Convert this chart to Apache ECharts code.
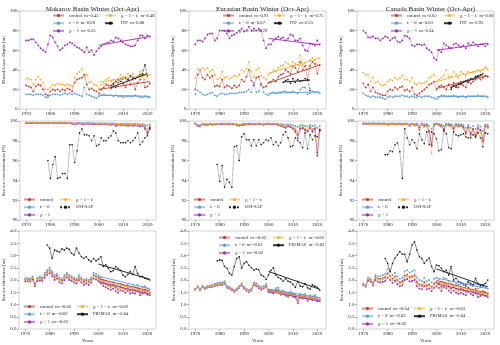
<!DOCTYPE html>
<html>
<head>
<meta charset="utf-8">
<script src="https://cdn.jsdelivr.net/npm/echarts@6/dist/echarts.min.js"></script>
<style>
  html, body { margin: 0; padding: 0; background: #fff; }
  #main { width: 500px; height: 345px; }
</style>
</head>
<body>
<div id="main"></div>
<script>
// years of the model runs
const years = [1970,1971,1972,1973,1974,1975,1976,1977,1978,1979,1980,1981,1982,1983,1984,1985,1986,1987,1988,1989,
  1990,1991,1992,1993,1994,1995,1996,1997,1998,1999,2000,2001,2002,2003,2004,2005,2006,2007,2008,2009,
  2010,2011,2012,2013,2014,2015,2016,2017,2018,2019,2020,2021];
const satYears = [1979,1980,1981,1982,1983,1984,1985,1986,1987,1988,1989,1990,1991,1992,1993,1994,1995,1996,1997,1998,
  1999,2000,2001,2002,2003,2004,2005,2006,2007,2008,2009,2010,2011,2012,2013,2014,2015,2016,2017,2018,2019,2020,2021];
const yearTicks = [1970, 1980, 1990, 2000, 2010, 2020];

// ---- mixed layer depth [m] ----
const mldMakControl = [24,23,22,18,23,25,24,20,15,14,18,20,19,20,18,20,19,21,20,18,27,30,31,32,35,25,20,21,19,18,16,20,22,25,24,21,25,22,27,31,26,22,30,25,32,20,27,30,35,22,23,26];
const mldMakF0 = [15,15,15,14,15,15,15,14,12,12,14,15,15,15,14,15,16,15,16,15,16,15,14,13,22,15,14,13,12,11,13,14,15,14,14,14,13,14,13,13,12,13,13,13,13,14,13,12,12,13,12,12];
const mldMakChi1 = [70,70,71,71,68,65,62,60,58,66,75,73,68,64,60,62,65,66,68,67,65,63,62,60,58,63,58,60,55,59,62,64,66,67,68,70,69,73,72,70,68,66,65,64,64,65,70,75,75,72,75,74];
const mldMakChiF = [31,31,30,25,30,33,30,27,20,20,22,25,24,26,25,25,24,25,24,23,32,36,38,41,33,35,27,28,25,24,20,25,26,30,32,28,30,28,31,35,33,30,36,34,36,31,33,38,40,30,33,35];
const itpMakYears = [2005,2006,2007,2008,2009,2010,2011,2012,2013,2014,2015,2016,2017,2018,2019,2020];
const itpMak = [24,26,28,30,28,31,32,30,34,32,31,33,35,36,45,34];

const mldEurControl = [20,35,40,32,30,35,32,34,23,24,23,30,22,24,23,21,24,22,24,30,28,33,40,29,24,32,33,25,22,23,27,28,30,28,33,35,36,40,38,36,44,42,38,48,40,44,30,44,48,46,36,45];
const mldEurF0 = [15,19,17,15,14,15,16,17,14,13,15,16,15,15,16,16,16,16,17,17,17,18,20,17,27,17,18,26,17,15,14,16,17,16,17,17,18,18,17,17,18,17,16,20,22,22,15,16,18,17,17,16];
const mldEurChi1 = [66,70,70,69,72,76,77,77,70,72,80,80,80,77,72,75,76,78,80,82,79,80,84,80,82,80,82,80,70,62,66,66,70,72,74,72,73,70,72,76,75,70,70,72,65,60,59,67,66,65,70,66];
const mldEurChiF = [32,41,40,42,40,42,38,40,35,30,31,38,32,33,31,32,34,33,35,40,38,41,48,38,33,40,42,34,32,30,35,37,40,38,42,44,45,48,46,44,48,46,45,55,45,47,40,50,52,50,45,52];
const itpEurYears = [2006,2007,2008,2009,2010,2011,2012,2013,2014,2015,2016,2017];
const itpEur = [27,29,30,26,31,27,30,28,29,31,30,19];

const mldCanControl = [26,22,25,18,22,17,16,15,14,14,18,20,19,22,20,22,23,19,20,18,22,15,14,16,18,20,22,25,26,28,20,23,24,22,20,25,22,27,24,22,28,24,22,30,26,28,30,33,30,32,34,33];
const mldCanF0 = [16,14,13,12,13,12,12,12,11,10,12,13,12,13,13,13,14,13,13,12,13,12,12,13,12,13,13,13,12,11,10,12,14,14,13,13,13,14,13,12,13,13,12,13,13,13,13,14,13,13,13,12];
const mldCanChi1 = [80,78,73,73,74,72,72,70,72,74,73,70,72,73,69,68,70,75,74,72,65,64,66,66,65,66,62,60,58,52,50,60,58,67,65,63,62,66,67,65,63,65,62,67,65,68,66,64,66,66,64,66];
const mldCanChiF = [37,35,35,28,32,27,28,25,24,25,28,30,29,32,30,32,34,30,30,28,32,26,25,27,26,27,28,32,33,35,28,30,32,34,40,33,33,38,35,32,38,36,34,38,37,38,38,40,38,40,43,40];
const itpCanYears = [2006,2007,2008,2009,2010,2011,2012,2013,2014,2015,2016,2017,2018,2019];
const itpCan = [20,24,22,26,25,28,29,27,31,30,33,34,35,36];

// trend line ends [start, end] for control, f0, chi1, chiF, obs
const trendMldMak = [[20,28],[14,13],[65,74],[27.5,35],[22,36]];
const trendMldEur = [[26.5,45],[16,17.5],[72,65.5],[36.5,52],[27.5,29.5]];
const trendMldCan = [[21,34],[12.5,13],[60,67],[28,41.7],[22,35]];
const mMldMak = ['0.45','0.06','0.35','0.48','0.88'];
const mMldEur = ['0.91','0.07','-0.29','0.75','0.15'];
const mMldCan = ['0.65','0.03','0.34','0.68','0.93'];

// ---- sea ice concentration [%] ----
const conMakControl = [99.82,99.80,99.80,99.81,99.80,99.80,99.79,99.80,99.80,99.80,99.79,99.80,99.80,99.78,99.80,99.79,99.80,99.80,99.79,99.75,
  99.70,99.75,99.78,99.70,99.72,99.75,99.74,99.73,99.72,99.70,99.70,99.72,99.70,99.70,99.68,99.68,99.70,99.60,99.65,99.62,
  99.65,99.62,99.60,99.62,99.60,99.62,99.60,99.55,99.60,99.40,98.90,99.40];
const conMakF0 = [99.85,99.84,99.84,99.85,99.84,99.84,99.83,99.84,99.84,99.84,99.83,99.84,99.84,99.83,99.84,99.83,99.84,99.84,99.83,99.80,
  99.78,99.80,99.82,99.78,99.80,99.80,99.80,99.79,99.78,99.77,99.77,99.78,99.77,99.77,99.76,99.75,99.76,99.72,99.74,99.72,
  99.74,99.72,99.70,99.72,99.70,99.72,99.70,99.68,99.70,99.60,99.55,99.65];
const conMakChi1 = [99.80,99.78,99.78,99.79,99.78,99.78,99.77,99.78,99.78,99.78,99.77,99.78,99.78,99.76,99.78,99.77,99.78,99.78,99.77,99.72,
  99.66,99.72,99.75,99.66,99.68,99.72,99.70,99.70,99.68,99.66,99.66,99.68,99.66,99.66,99.63,99.62,99.66,99.50,99.60,99.55,
  99.60,99.55,99.52,99.56,99.52,99.55,99.52,99.45,99.52,99.20,98.70,99.20];
const conMakChiF = [99.83,99.82,99.82,99.82,99.81,99.81,99.80,99.81,99.81,99.81,99.80,99.81,99.81,99.79,99.81,99.80,99.81,99.81,99.80,99.77,
  99.72,99.77,99.79,99.72,99.74,99.77,99.76,99.75,99.74,99.72,99.72,99.74,99.72,99.72,99.70,99.70,99.72,99.63,99.67,99.64,
  99.67,99.64,99.62,99.64,99.62,99.64,99.62,99.58,99.62,99.45,99.20,99.50];
const osiMak = [96.0,94.2,95.6,96.4,94.2,94.3,94.7,94.7,94.2,97.6,97.6,95.8,97.0,98.8,99.2,98.6,98.6,98.5,98.0,98.5,
  97.5,97.6,98.3,98.0,98.0,98.3,98.5,99.0,98.8,98.0,97.8,97.8,97.8,98.0,97.8,98.0,98.3,98.8,97.6,97.9,98.3,98.5,99.3];

const conEurControl = [99.75,99.55,99.50,99.68,99.65,99.62,99.70,99.66,99.68,99.70,99.70,99.72,99.70,99.68,99.72,99.70,99.68,99.62,99.58,99.62,
  99.65,99.70,99.72,99.70,99.68,99.70,99.72,99.70,99.66,99.70,99.72,99.70,99.68,99.70,99.62,99.58,99.50,99.40,99.55,99.45,
  99.30,99.10,98.60,99.30,99.35,99.20,99.00,99.40,99.10,99.30,96.80,99.10];
const conEurF0 = [99.78,99.62,99.58,99.72,99.70,99.68,99.74,99.70,99.72,99.74,99.74,99.76,99.74,99.72,99.76,99.74,99.72,99.68,99.65,99.68,
  99.70,99.74,99.76,99.74,99.72,99.74,99.76,99.74,99.70,99.74,99.76,99.74,99.72,99.74,99.70,99.68,99.65,99.60,99.66,99.62,
  99.55,99.50,99.40,99.55,99.58,99.50,99.45,99.60,99.50,99.55,99.30,99.50];
const conEurChi1 = [99.72,99.50,99.45,99.65,99.62,99.58,99.68,99.62,99.65,99.68,99.68,99.70,99.68,99.65,99.70,99.68,99.65,99.58,99.52,99.58,
  99.62,99.68,99.70,99.68,99.65,99.68,99.70,99.68,99.62,99.68,99.70,99.68,99.65,99.68,99.58,99.52,99.42,99.30,99.48,99.38,
  99.20,98.90,98.25,99.20,99.25,99.05,98.95,99.30,98.90,99.20,96.50,99.00];
const conEurChiF = [99.76,99.58,99.52,99.70,99.66,99.64,99.72,99.68,99.70,99.72,99.72,99.74,99.72,99.70,99.74,99.72,99.70,99.64,99.60,99.64,
  99.66,99.72,99.74,99.72,99.70,99.72,99.74,99.72,99.68,99.72,99.74,99.72,99.70,99.72,99.65,99.60,99.52,99.45,99.58,99.50,
  99.35,99.20,98.80,99.35,99.40,99.25,99.10,99.45,99.20,99.35,97.20,99.20];
const osiEur = [95.6,93.9,95.5,93.3,94.1,93.8,93.3,97.4,97.5,96.0,98.4,98.7,98.1,98.1,97.5,98.1,97.5,98.1,97.6,97.8,
  98.1,98.0,98.3,97.6,97.9,97.5,97.8,98.6,98.9,98.3,97.4,97.5,98.3,98.0,97.8,97.3,98.8,97.2,98.6,98.1,98.5,98.4,99.1];

const conCanControl = [99.75,99.72,99.74,99.70,99.75,99.72,99.74,99.70,99.72,99.70,99.65,99.70,99.72,99.68,99.70,99.72,99.66,99.70,99.68,99.55,
  99.70,99.60,99.65,99.30,99.70,99.50,99.60,99.00,97.50,99.60,99.70,99.60,99.50,99.20,99.65,99.60,99.55,99.30,99.60,99.50,
  99.55,99.40,98.90,99.40,98.80,99.20,98.60,99.30,99.10,98.20,99.50,99.40];
const conCanF0 = [99.78,99.76,99.77,99.75,99.78,99.76,99.77,99.75,99.76,99.75,99.72,99.75,99.76,99.74,99.75,99.76,99.72,99.75,99.74,99.68,
  99.75,99.70,99.72,99.55,99.75,99.65,99.70,99.50,99.20,99.70,99.75,99.70,99.65,99.50,99.72,99.70,99.68,99.55,99.70,99.65,
  99.68,99.60,99.30,99.60,99.30,99.50,99.20,99.55,99.45,99.00,99.65,99.60];
const conCanChi1 = [99.73,99.70,99.72,99.68,99.73,99.70,99.72,99.68,99.70,99.68,99.62,99.68,99.70,99.66,99.68,99.70,99.64,99.68,99.66,99.50,
  99.68,99.55,99.62,99.10,99.68,99.45,99.55,98.90,97.60,99.58,99.68,99.55,99.45,99.10,99.62,99.55,99.50,99.20,99.55,99.45,
  99.50,99.30,98.70,99.30,98.60,99.10,98.50,99.20,99.00,98.00,99.45,99.35];
const conCanChiF = [99.72,99.70,99.72,99.68,99.72,99.70,99.72,99.68,99.70,99.68,99.62,99.68,99.70,99.65,99.68,99.70,99.62,99.68,99.65,99.50,
  99.68,99.55,99.60,99.20,99.65,99.40,99.50,98.80,96.70,99.55,99.65,99.55,99.40,99.00,99.60,99.50,99.45,99.10,99.55,99.40,
  99.45,99.25,98.60,99.25,98.50,99.00,98.30,99.15,98.90,97.90,99.40,99.30];
const osiCan = [96.6,96.6,97.0,96.9,97.6,97.8,96.9,94.2,99.2,98.3,97.6,98.1,97.8,97.2,98.7,98.1,97.7,98.9,97.6,98.9,
  98.7,98.2,97.0,97.1,99.0,98.7,97.3,97.2,98.9,98.6,98.5,98.6,98.7,98.4,98.3,98.3,98.6,98.4,98.8,98.3,97.4,98.8,98.7];

// ---- sea ice thickness [m] ----
const thkMakControl = [2.02,2.03,2.00,2.10,1.80,2.05,2.08,2.05,2.22,2.32,2.40,2.28,2.12,2.18,2.02,1.98,2.12,2.22,2.12,2.08,
  2.02,1.98,2.12,2.02,1.92,1.98,1.92,2.02,2.20,2.15,2.10,2.00,1.90,1.85,1.80,1.75,1.80,1.70,1.62,1.72,
  1.68,1.62,1.68,1.58,1.62,1.58,1.68,1.48,1.58,1.62,1.52,1.48];
const thkMakF0 = [2.08,2.08,2.05,2.15,1.85,2.10,2.15,2.10,2.30,2.40,2.50,2.35,2.20,2.25,2.10,2.05,2.20,2.30,2.20,2.15,
  2.10,2.05,2.20,2.10,2.00,2.05,2.00,2.10,2.30,2.25,2.20,2.10,2.00,1.95,1.90,1.85,1.90,1.80,1.75,1.85,
  1.80,1.75,1.80,1.70,1.75,1.70,1.80,1.60,1.70,1.75,1.65,1.60];
const thkMakChi1 = [1.95,1.96,1.93,2.02,1.75,1.96,1.98,1.96,2.10,2.20,2.28,2.16,2.00,2.06,1.90,1.86,2.00,2.10,2.00,1.96,
  1.90,1.86,2.00,1.90,1.80,1.86,1.80,1.90,2.06,2.02,1.96,1.86,1.76,1.70,1.65,1.60,1.65,1.55,1.48,1.58,
  1.55,1.48,1.55,1.45,1.48,1.45,1.55,1.38,1.45,1.50,1.40,1.38];
const thkMakChiF = [2.00,2.01,1.98,2.08,1.78,2.02,2.05,2.02,2.18,2.28,2.35,2.24,2.08,2.14,1.98,1.94,2.08,2.18,2.08,2.04,
  1.98,1.94,2.08,1.98,1.88,1.94,1.88,1.98,2.15,2.10,2.05,1.95,1.85,1.80,1.75,1.70,1.75,1.65,1.58,1.68,
  1.64,1.58,1.64,1.54,1.58,1.54,1.64,1.45,1.54,1.58,1.48,1.45];
const piomasMak = [3.43,3.30,2.88,3.22,3.18,3.13,3.27,3.22,3.30,3.25,3.09,3.02,3.30,3.10,2.95,2.88,2.95,2.82,2.75,2.88,
  2.78,2.85,2.95,2.55,2.62,2.48,2.34,2.38,2.55,2.48,2.40,2.20,2.13,2.22,2.34,2.22,2.55,2.27,2.13,2.15,2.07,2.04,2.00];

const thkEurControl = [1.62,1.72,1.60,1.72,1.65,1.72,1.73,1.75,1.80,1.82,1.85,1.85,1.90,1.72,1.68,1.62,1.55,1.62,1.72,1.82,
  1.68,1.60,1.55,1.60,1.85,1.80,1.72,1.65,1.70,1.78,1.55,1.55,1.50,1.60,1.62,1.45,1.50,1.42,1.38,1.45,
  1.38,1.35,1.10,1.35,1.30,1.35,1.20,1.30,1.25,1.30,1.20,1.20];
const thkEurF0 = [1.65,1.75,1.63,1.76,1.69,1.76,1.77,1.80,1.85,1.87,1.90,1.90,1.95,1.76,1.72,1.66,1.59,1.66,1.76,1.87,
  1.73,1.65,1.60,1.65,1.90,1.86,1.78,1.71,1.76,1.84,1.61,1.61,1.57,1.67,1.70,1.52,1.58,1.50,1.46,1.53,
  1.46,1.43,1.20,1.44,1.39,1.43,1.29,1.38,1.33,1.38,1.28,1.28];
const thkEurChi1 = [1.60,1.70,1.58,1.70,1.63,1.69,1.70,1.72,1.76,1.78,1.80,1.80,1.85,1.68,1.64,1.58,1.52,1.58,1.68,1.78,
  1.64,1.56,1.51,1.56,1.80,1.75,1.67,1.60,1.65,1.73,1.50,1.50,1.45,1.55,1.56,1.40,1.44,1.36,1.32,1.39,
  1.32,1.29,1.05,1.28,1.24,1.28,1.14,1.23,1.18,1.23,1.14,1.14];
const thkEurChiF = [1.61,1.71,1.59,1.71,1.64,1.71,1.72,1.74,1.79,1.81,1.84,1.84,1.89,1.71,1.67,1.61,1.54,1.61,1.71,1.81,
  1.67,1.59,1.54,1.59,1.84,1.79,1.71,1.64,1.69,1.77,1.54,1.54,1.49,1.59,1.61,1.44,1.49,1.41,1.37,1.44,
  1.37,1.34,1.09,1.34,1.29,1.34,1.19,1.29,1.24,1.29,1.19,1.19];
const piomasEur = [2.78,2.82,2.80,2.55,2.48,2.27,2.20,2.55,2.88,2.95,2.48,2.68,2.75,2.60,2.50,2.40,2.45,2.42,2.20,2.15,
  2.02,2.20,2.40,2.50,2.20,2.10,2.05,1.95,2.05,1.95,1.92,1.82,1.70,1.95,1.75,1.72,1.85,1.68,1.62,1.80,1.75,1.70,1.58];

const thkCanControl = [1.83,1.76,2.05,2.00,1.86,2.12,2.06,2.05,2.08,2.12,2.28,2.18,2.05,2.15,2.00,1.90,1.95,2.18,2.22,2.12,
  2.15,2.20,1.92,1.82,1.78,1.92,1.78,1.82,1.72,1.86,1.92,1.86,1.72,1.90,1.85,1.75,1.65,1.75,1.65,1.60,
  1.65,1.60,1.55,1.70,1.60,1.55,1.65,1.45,1.50,1.55,1.50,1.45];
const thkCanF0 = [1.85,1.78,2.10,2.05,1.90,2.20,2.15,2.15,2.20,2.25,2.45,2.35,2.20,2.30,2.15,2.05,2.10,2.35,2.40,2.30,
  2.35,2.40,2.10,2.00,1.95,2.10,1.95,2.00,1.90,2.05,2.10,2.05,1.90,2.10,2.05,1.95,1.85,1.95,1.85,1.80,
  1.85,1.80,1.75,1.90,1.80,1.75,1.85,1.65,1.70,1.75,1.70,1.65];
const thkCanChi1 = [1.80,1.72,1.98,1.93,1.78,2.00,1.93,1.90,1.92,1.96,2.10,2.00,1.88,1.97,1.83,1.74,1.78,2.00,2.04,1.94,
  1.96,2.00,1.75,1.65,1.62,1.75,1.62,1.65,1.55,1.68,1.74,1.68,1.55,1.72,1.67,1.57,1.48,1.57,1.48,1.43,
  1.48,1.43,1.38,1.52,1.43,1.38,1.48,1.30,1.35,1.40,1.35,1.30];
const thkCanChiF = [1.82,1.75,2.03,1.98,1.84,2.08,2.02,2.00,2.03,2.07,2.22,2.12,1.99,2.09,1.94,1.84,1.89,2.12,2.16,2.06,
  2.09,2.14,1.86,1.76,1.72,1.86,1.72,1.76,1.66,1.80,1.86,1.80,1.66,1.84,1.79,1.69,1.59,1.69,1.59,1.54,
  1.59,1.54,1.49,1.64,1.54,1.49,1.59,1.40,1.45,1.50,1.45,1.40];
const piomasCan = [2.88,2.68,2.34,2.68,2.90,3.02,3.16,3.05,3.05,2.75,3.05,3.43,3.56,3.22,2.95,2.88,2.68,2.80,2.90,2.55,
  2.34,2.61,2.58,2.48,2.34,2.40,2.20,2.55,2.00,2.07,1.93,1.90,1.86,1.80,1.93,1.86,1.80,2.07,1.83,1.77,1.80,1.86,2.00];

const trendThkMak = [[2.05,1.55],[2.15,1.65],[1.92,1.42],[2.00,1.50],[2.65,2.03]];
const trendThkEur = [[1.58,1.20],[1.63,1.28],[1.53,1.14],[1.56,1.19],[2.35,1.62]];
const trendThkCan = [[1.98,1.45],[2.08,1.65],[1.85,1.35],[1.93,1.42],[2.45,1.72]];
const mThkMak = ['-0.02','-0.02','-0.02','-0.02','-0.04'];
const mThkEur = ['-0.02','-0.01','-0.02','-0.02','-0.03'];
const mThkCan = ['-0.04','-0.03','-0.02','-0.03','-0.04'];

// ---------------------------------------------------------------
const FONT = "'Liberation Serif','DejaVu Serif',serif";
const TXT = '#222';
const colLeft = [19, 189, 357];
const rowTop = [11, 121, 231];
const gridW = 137;
const gridH = [98, 99, 98];

const modelKeys = ['control', 'f0', 'chi1', 'chiF'];
const modelColors = { control: '#c0392b', f0: '#5b9bd5', chi1: '#9c27b0', chiF: '#f2b134' };
const modelText = { control: 'control', f0: 'fᵢ = 0', chi1: 'χᵢ = 1', chiF: 'χᵢ = 1 − fᵢ' };

const rows = [
  { min: 0, max: 100, interval: 20, name: 'Mixed Layer Depth [m]', fmt: v => String(v) },
  { min: 90, max: 100, interval: 2, name: 'Sea ice concentration [%]', fmt: v => String(v) },
  { min: 0, max: 4, interval: 0.5, name: 'Sea ice thickness [m]', fmt: v => v.toFixed(1) }
];

const panels = [
  { title: 'Makarov Basin Winter (Oct-Apr)', models: [mldMakControl, mldMakF0, mldMakChi1, mldMakChiF],
    obsName: 'ITP', obsYears: itpMakYears, obs: itpMak, trend: trendMldMak, obsTrendYears: [2005, 2020], m: mMldMak },
  { title: 'Eurasian Basin Winter (Oct-Apr)', models: [mldEurControl, mldEurF0, mldEurChi1, mldEurChiF],
    obsName: 'ITP', obsYears: itpEurYears, obs: itpEur, trend: trendMldEur, obsTrendYears: [2006, 2017], m: mMldEur },
  { title: 'Canada Basin Winter (Oct-Apr)', models: [mldCanControl, mldCanF0, mldCanChi1, mldCanChiF],
    obsName: 'ITP', obsYears: itpCanYears, obs: itpCan, trend: trendMldCan, obsTrendYears: [2006, 2019], m: mMldCan },
  { models: [conMakControl, conMakF0, conMakChi1, conMakChiF], obsName: 'OSI-SAF', obsYears: satYears, obs: osiMak },
  { models: [conEurControl, conEurF0, conEurChi1, conEurChiF], obsName: 'OSI-SAF', obsYears: satYears, obs: osiEur },
  { models: [conCanControl, conCanF0, conCanChi1, conCanChiF], obsName: 'OSI-SAF', obsYears: satYears, obs: osiCan },
  { models: [thkMakControl, thkMakF0, thkMakChi1, thkMakChiF], obsName: 'PIOMAS', obsYears: satYears, obs: piomasMak,
    trend: trendThkMak, obsTrendYears: [2000, 2021], m: mThkMak },
  { models: [thkEurControl, thkEurF0, thkEurChi1, thkEurChiF], obsName: 'PIOMAS', obsYears: satYears, obs: piomasEur,
    trend: trendThkEur, obsTrendYears: [2000, 2021], m: mThkEur },
  { models: [thkCanControl, thkCanF0, thkCanChi1, thkCanChiF], obsName: 'PIOMAS', obsYears: satYears, obs: piomasCan,
    trend: trendThkCan, obsTrendYears: [2000, 2021], m: mThkCan }
];

// legend positions: [left column x offset, right column x offset, top]
const legendPos = [
  [33, 85, 13], [33, 84, 13], [33, 86, 13],
  [4, 40, 197], [4, 39, 197], [4, 40, 197],
  [4, 57, 304], [29, 83, 235], [4, 56, 306]
];
const obsDash = ['dashed', 'dotted', 'solid'];

const labels = {};
const grid = [], xAxis = [], yAxis = [], series = [], legend = [], title = [];

panels.forEach(function (p, i) {
  const r = Math.floor(i / 3), c = i % 3;
  const ax = rows[r];
  grid.push({
    left: colLeft[c], top: rowTop[r], width: gridW, height: gridH[r],
    show: true, borderColor: '#c8c8c8', borderWidth: 0.8, backgroundColor: 'transparent'
  });
  xAxis.push({
    type: 'value', gridIndex: i, min: 1967.45, max: 2023.55,
    axisLine: { show: false }, splitLine: { show: false },
    axisTick: { customValues: yearTicks, length: 2, lineStyle: { color: '#777', width: 0.6 } },
    axisLabel: { customValues: yearTicks, fontSize: 5, fontFamily: FONT, color: TXT, margin: 2.5,
      formatter: v => String(v) },
    name: r === 2 ? 'Years' : '', nameLocation: 'middle', nameGap: 9,
    nameTextStyle: { fontSize: 5, fontFamily: FONT, color: TXT }
  });
  yAxis.push({
    type: 'value', gridIndex: i, min: ax.min, max: ax.max, interval: ax.interval,
    axisLine: { show: false }, splitLine: { show: false },
    axisTick: { length: 2, lineStyle: { color: '#777', width: 0.6 } },
    axisLabel: { fontSize: 5, fontFamily: FONT, color: TXT, margin: 2.5, formatter: ax.fmt },
    name: ax.name, nameLocation: 'middle', nameGap: 11,
    nameTextStyle: { fontSize: 5, fontFamily: FONT, color: TXT }
  });
  if (p.title) {
    title.push({
      text: p.title, left: colLeft[c] + gridW / 2, top: 1, textAlign: 'center',
      textStyle: { fontSize: 7, fontWeight: 'normal', fontFamily: FONT, color: TXT }
    });
  }

  // model runs
  p.models.forEach(function (arr, k) {
    const key = modelKeys[k];
    const name = i + '_' + key;
    labels[name] = modelText[key] + (p.m ? '  m=' + p.m[k] : '');
    series.push({
      name: name, type: 'line', xAxisIndex: i, yAxisIndex: i,
      data: years.map((y, j) => [y, arr[j]]),
      symbol: 'circle', symbolSize: 1.8, showSymbol: true,
      itemStyle: { color: modelColors[key] },
      lineStyle: { width: 0.7, opacity: 0.55 }, z: 2
    });
  });

  // observations
  const obsName = i + '_obs';
  labels[obsName] = p.obsName + (p.m ? '  m=' + p.m[4] : '');
  series.push({
    name: obsName, type: 'line', xAxisIndex: i, yAxisIndex: i,
    data: p.obsYears.map((y, j) => [y, p.obs[j]]),
    symbol: 'circle', symbolSize: 1.6, showSymbol: true,
    itemStyle: { color: '#111' },
    lineStyle: { color: '#333', width: 0.6, type: obsDash[r] }, z: 3
  });

  // linear trends
  if (p.trend) {
    p.trend.forEach(function (tv, k) {
      const ty = k < 4 ? [2000, 2021] : p.obsTrendYears;
      series.push({
        type: 'line', xAxisIndex: i, yAxisIndex: i, silent: true,
        data: [[ty[0], tv[0]], [ty[1], tv[1]]], symbol: 'none',
        lineStyle: { color: k < 4 ? modelColors[modelKeys[k]] : '#111', width: 0.9 }, z: 4
      });
    });
  }

  const lp = legendPos[i];
  const legendBase = {
    orient: 'vertical', itemWidth: 11, itemHeight: 4, itemGap: 2.7, padding: 0,
    selectedMode: false, top: lp[2],
    textStyle: { fontSize: 4.6, fontFamily: FONT, color: TXT },
    formatter: n => labels[n]
  };
  legend.push(Object.assign({}, legendBase, {
    left: colLeft[c] + lp[0], data: [i + '_control', i + '_f0', i + '_chi1']
  }));
  legend.push(Object.assign({}, legendBase, {
    left: colLeft[c] + lp[1], data: [i + '_chiF', obsName]
  }));
});

const chart = echarts.init(document.getElementById('main'));
chart.setOption({
  animation: false,
  backgroundColor: '#fff',
  title: title,
  grid: grid,
  xAxis: xAxis,
  yAxis: yAxis,
  legend: legend,
  series: series
});
</script>
</body>
</html>
